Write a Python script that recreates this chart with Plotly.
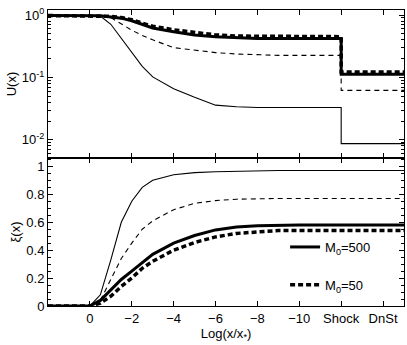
import plotly.graph_objects as go
from plotly.subplots import make_subplots

# positions along the precursor, log10(x/x*)
LOGX = [2, 1, 0.5, 0, -0.5, -1, -1.5, -2, -2.5, -3, -4, -5, -6, -7, -8, -9, -10, -11, -12]
SHOCK_X = -12      # where the shock is drawn
DNST_END = -15     # downstream region runs out to the frame

TICK_VALS = [0, -2, -4, -6, -8, -10, -12, -14]
TICK_TEXT = ["0", "\u22122", "\u22124", "\u22126", "\u22128", "\u221210", "Shock", "DnSt"]

# U(x) upstream, then the downstream value
U_M500 = [0.98, 0.98, 0.98, 0.98, 0.97, 0.93, 0.89, 0.81, 0.71, 0.62, 0.54, 0.48, 0.45, 0.43, 0.42, 0.42, 0.42, 0.42, 0.42]
U_M50 = [0.98, 0.98, 0.98, 0.98, 0.98, 0.95, 0.91, 0.84, 0.74, 0.66, 0.58, 0.52, 0.48, 0.46, 0.455, 0.45, 0.45, 0.45, 0.45]
U_THIN_DASH = [0.98, 0.98, 0.98, 0.98, 0.97, 0.91, 0.71, 0.57, 0.47, 0.40, 0.30, 0.275, 0.25, 0.237, 0.229, 0.226, 0.226, 0.226, 0.226]
U_THIN_SOLID = [0.98, 0.98, 0.98, 0.98, 0.96, 0.71, 0.43, 0.26, 0.151, 0.102, 0.066, 0.048, 0.036, 0.034, 0.033, 0.033, 0.033, 0.033, 0.033]
U_DOWN = {"m500": 0.112, "m50": 0.122, "thin_dash": 0.062, "thin_solid": 0.0087}

# xi(x)
XI_M500 = [0, 0, 0, 0, 0.04, 0.115, 0.19, 0.25, 0.31, 0.37, 0.45, 0.505, 0.545, 0.565, 0.575, 0.58, 0.58, 0.58, 0.58]
XI_M50 = [0, 0, 0, 0, 0.02, 0.07, 0.14, 0.20, 0.27, 0.32, 0.40, 0.455, 0.495, 0.52, 0.53, 0.54, 0.54, 0.54, 0.54]
XI_THIN_DASH = [0, 0, 0, 0, 0.04, 0.19, 0.34, 0.45, 0.55, 0.61, 0.69, 0.735, 0.755, 0.765, 0.77, 0.77, 0.77, 0.77, 0.77]
XI_THIN_SOLID = [0, 0, 0, 0, 0.08, 0.33, 0.60, 0.75, 0.85, 0.90, 0.94, 0.955, 0.962, 0.966, 0.97, 0.97, 0.97, 0.97, 0.97]

FONT = "Liberation Sans, Arial, sans-serif"
FS = 13

STYLES = {
    "thin_solid": dict(color="black", width=1.1),
    "thin_dash": dict(color="black", width=1.1, dash="5px,4px"),
    "m500": dict(color="black", width=3),
    "m50": dict(color="black", width=3.5, dash="5px,3px"),
}

fig = make_subplots(rows=2, cols=1, shared_xaxes=True, vertical_spacing=0)

x_all = LOGX + [SHOCK_X, DNST_END]

upper = [("thin_solid", U_THIN_SOLID), ("thin_dash", U_THIN_DASH), ("m500", U_M500), ("m50", U_M50)]
for key, vals in upper:
    fig.add_trace(go.Scatter(x=x_all, y=vals + [U_DOWN[key], U_DOWN[key]], mode="lines",
                             line=STYLES[key], showlegend=False), row=1, col=1)

lower = [("thin_solid", XI_THIN_SOLID, None), ("thin_dash", XI_THIN_DASH, None),
         ("m500", XI_M500, "M<sub>0</sub>=500"), ("m50", XI_M50, "M<sub>0</sub>=50")]
for key, vals, name in lower:
    fig.add_trace(go.Scatter(x=x_all, y=vals + [vals[-1], vals[-1]], mode="lines",
                             line=STYLES[key], name=name, legendgroup=key,
                             showlegend=name is not None), row=2, col=1)

axis_common = dict(showline=True, linecolor="black", linewidth=1, mirror="ticks",
                   ticks="inside", tickcolor="black", ticklen=5, showgrid=False, zeroline=False,
                   automargin=False,
                   tickfont=dict(family=FONT, size=FS, color="black"))

fig.update_xaxes(range=[2, DNST_END], tickvals=TICK_VALS, ticktext=TICK_TEXT, **axis_common)
fig.update_xaxes(title=dict(text="Log(x/x<sub>*</sub>)", font=dict(family=FONT, size=FS, color="black"),
                            standoff=0), row=2, col=1)

minor_log = [m * 10 ** e for e in (-3, -2, -1) for m in range(2, 10)]
fig.update_yaxes(type="log", range=[-2.29, 0.08], tickvals=[1, 0.1, 0.01],
                 ticktext=["10<sup>0</sup>", "10<sup>-1</sup>", "10<sup>-2</sup>"],
                 minor=dict(tickvals=minor_log, ticks="inside", ticklen=3, tickcolor="black"),
                 title=dict(text="U(x)", font=dict(family=FONT, size=FS, color="black"), standoff=2),
                 row=1, col=1, **axis_common)
fig.update_yaxes(range=[0, 1.06], tickvals=[0, 0.2, 0.4, 0.6, 0.8, 1],
                 ticktext=["0", "0.2", "0.4", "0.6", "0.8", "1"],
                 minor=dict(dtick=0.05, ticks="inside", ticklen=3, tickcolor="black"),
                 title=dict(text="\u03be(x)", font=dict(family=FONT, size=FS, color="black"), standoff=2),
                 row=2, col=1, **axis_common)

fig.update_layout(
    width=407, height=345,
    margin=dict(l=48, r=3, t=10, b=39),
    paper_bgcolor="white", plot_bgcolor="white",
    font=dict(family=FONT, size=FS, color="black"),
    legend=dict(x=0.666, y=0.25, xanchor="left", yanchor="top", bgcolor="rgba(0,0,0,0)",
                tracegroupgap=18, font=dict(family=FONT, size=FS, color="black")),
)

# page has a default 8px body margin; drop it so the figure fills the window
fig.write_html("out.html", config={"displayModeBar": False},
               post_script="document.body.style.margin='0';")
